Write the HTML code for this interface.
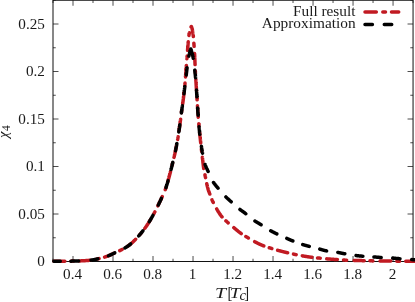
<!DOCTYPE html>
<html><head><meta charset="utf-8"><title>plot</title>
<style>
html,body{margin:0;padding:0;background:#fff;}
body{width:415px;height:302px;overflow:hidden;font-family:"Liberation Serif",serif;}
svg{display:block;will-change:transform;}
text{font-family:"Liberation Serif",serif;font-size:14.6px;fill:#1a1a1a;}
</style></head><body>
<svg width="415" height="302" viewBox="0 0 415 302">
<rect width="415" height="302" fill="#fff"/>
<g stroke="#111" stroke-width="0.75" fill="none">
<rect x="53.0" y="0.25" width="360.05" height="261.25" stroke-width="1"/>
<path d="M53.00,261.5 v-2.75 M53.00,0.25 v2.75"/><path d="M73.00,261.5 v-5.5 M73.00,0.25 v5.5"/><path d="M93.01,261.5 v-2.75 M93.01,0.25 v2.75"/><path d="M113.01,261.5 v-5.5 M113.01,0.25 v5.5"/><path d="M133.01,261.5 v-2.75 M133.01,0.25 v2.75"/><path d="M153.01,261.5 v-5.5 M153.01,0.25 v5.5"/><path d="M173.02,261.5 v-2.75 M173.02,0.25 v2.75"/><path d="M193.02,261.5 v-5.5 M193.02,0.25 v5.5"/><path d="M213.02,261.5 v-2.75 M213.02,0.25 v2.75"/><path d="M233.02,261.5 v-5.5 M233.02,0.25 v5.5"/><path d="M253.03,261.5 v-2.75 M253.03,0.25 v2.75"/><path d="M273.03,261.5 v-5.5 M273.03,0.25 v5.5"/><path d="M293.03,261.5 v-2.75 M293.03,0.25 v2.75"/><path d="M313.04,261.5 v-5.5 M313.04,0.25 v5.5"/><path d="M333.04,261.5 v-2.75 M333.04,0.25 v2.75"/><path d="M353.04,261.5 v-5.5 M353.04,0.25 v5.5"/><path d="M373.04,261.5 v-2.75 M373.04,0.25 v2.75"/><path d="M393.05,261.5 v-5.5 M393.05,0.25 v5.5"/><path d="M413.05,261.5 v-2.75 M413.05,0.25 v2.75"/><path d="M53.0,261.50 h5.5 M413.05,261.50 h-5.5"/><path d="M53.0,237.75 h2.75 M413.05,237.75 h-2.75"/><path d="M53.0,214.00 h5.5 M413.05,214.00 h-5.5"/><path d="M53.0,190.25 h2.75 M413.05,190.25 h-2.75"/><path d="M53.0,166.50 h5.5 M413.05,166.50 h-5.5"/><path d="M53.0,142.75 h2.75 M413.05,142.75 h-2.75"/><path d="M53.0,119.00 h5.5 M413.05,119.00 h-5.5"/><path d="M53.0,95.25 h2.75 M413.05,95.25 h-2.75"/><path d="M53.0,71.50 h5.5 M413.05,71.50 h-5.5"/><path d="M53.0,47.75 h2.75 M413.05,47.75 h-2.75"/><path d="M53.0,24.00 h5.5 M413.05,24.00 h-5.5"/><path d="M53.0,0.25 h2.75 M413.05,0.25 h-2.75"/>
</g>
<g>
<text transform="translate(72.60,278.6) scale(1.04,0.965)" text-anchor="middle">0.4</text><text transform="translate(112.61,278.6) scale(1.04,0.965)" text-anchor="middle">0.6</text><text transform="translate(152.61,278.6) scale(1.04,0.965)" text-anchor="middle">0.8</text><text transform="translate(192.62,278.6) scale(1.04,0.965)" text-anchor="middle">1</text><text transform="translate(232.62,278.6) scale(1.04,0.965)" text-anchor="middle">1.2</text><text transform="translate(272.63,278.6) scale(1.04,0.965)" text-anchor="middle">1.4</text><text transform="translate(312.64,278.6) scale(1.04,0.965)" text-anchor="middle">1.6</text><text transform="translate(352.64,278.6) scale(1.04,0.965)" text-anchor="middle">1.8</text><text transform="translate(392.65,278.6) scale(1.04,0.965)" text-anchor="middle">2</text><text transform="translate(44.9,266.30) scale(1.04,0.965)" text-anchor="end">0</text><text transform="translate(44.9,218.80) scale(1.04,0.965)" text-anchor="end">0.05</text><text transform="translate(44.9,171.30) scale(1.04,0.965)" text-anchor="end">0.1</text><text transform="translate(44.9,123.80) scale(1.04,0.965)" text-anchor="end">0.15</text><text transform="translate(44.9,76.30) scale(1.04,0.965)" text-anchor="end">0.2</text><text transform="translate(44.9,28.80) scale(1.04,0.965)" text-anchor="end">0.25</text>
<text x="293" y="15.7" textLength="62.4" lengthAdjust="spacingAndGlyphs">Full result</text>
<text x="261.8" y="28.2" textLength="93.8" lengthAdjust="spacingAndGlyphs">Approximation</text>
<text transform="translate(215.0,297.8) scale(1.36,1)" font-style="italic">T</text>
<text transform="translate(227.6,298.6) scale(1,1.18)">[</text>
<text transform="translate(229.7,297.8) scale(1.3,1)" font-style="italic">T</text>
<text x="239.4" y="300" font-style="italic" font-size="9.6">c</text>
<text transform="translate(244.3,298.6) scale(1,1.18)">]</text>
<text transform="translate(8.3,137.9) rotate(-90)"><tspan font-style="italic">χ</tspan><tspan font-size="11.6" dx="0.6" dy="1.9">4</tspan></text>
</g>
<g fill="none" stroke-width="3.5" stroke-linecap="round" stroke-linejoin="round">
<g stroke="#c11a22" stroke-dasharray="11.3 6.5 2.7 6">
<path d="M53.95,261.29 L53.96,261.29 L54.17,261.29 L54.38,261.29 L54.58,261.29 L54.79,261.29 L55.00,261.29 L55.21,261.29 L55.42,261.29 L55.63,261.29 L55.83,261.28 L56.04,261.28 L56.25,261.28 L56.46,261.28 L56.67,261.28 L56.88,261.28 L57.09,261.28 L57.29,261.28 L57.50,261.27 L57.71,261.27 L57.92,261.27 L58.13,261.27 L58.34,261.27 L58.54,261.27 L58.75,261.27 L58.96,261.27 L59.17,261.26 L59.38,261.26 L59.59,261.26 L59.80,261.26 L60.00,261.26 L60.21,261.26 L60.42,261.25 L60.63,261.25 L60.84,261.25 L61.05,261.25 L61.25,261.25 L61.46,261.25 L61.67,261.24 L61.88,261.24 L62.09,261.24 L62.30,261.24 L62.50,261.24 L62.71,261.24 L62.92,261.23 L63.13,261.23 L63.34,261.23 L63.55,261.23 L63.76,261.23 L63.96,261.22 L64.17,261.22 L64.38,261.22 L64.59,261.22 L64.80,261.22 L64.84,261.22 M71.10,261.13 L71.26,261.13 L71.47,261.13 L71.68,261.12 L71.88,261.12 L72.09,261.11 L72.30,261.11 L72.51,261.11 L72.72,261.10 L72.93,261.10 L73.13,261.09 L73.34,261.09 L73.55,261.08 L73.70,261.08 M79.48,260.92 L79.59,260.91 L79.80,260.91 L80.01,260.90 L80.22,260.89 L80.43,260.88 L80.63,260.88 L80.84,260.87 L81.05,260.86 L81.26,260.85 L81.47,260.84 L81.68,260.83 L81.89,260.82 L82.09,260.81 L82.30,260.80 L82.51,260.79 L82.72,260.78 L82.93,260.77 L83.14,260.76 L83.34,260.75 L83.55,260.74 L83.76,260.73 L83.97,260.72 L84.18,260.71 L84.39,260.69 L84.60,260.68 L84.80,260.67 L85.01,260.66 L85.22,260.64 L85.43,260.63 L85.64,260.62 L85.85,260.60 L86.05,260.59 L86.26,260.57 L86.47,260.56 L86.68,260.54 L86.89,260.53 L87.09,260.51 L87.30,260.50 L87.51,260.48 L87.72,260.46 L87.92,260.45 L88.13,260.43 L88.34,260.41 L88.55,260.39 L88.75,260.38 L88.96,260.36 L89.17,260.34 L89.37,260.32 L89.58,260.30 L89.79,260.28 L89.99,260.26 L90.20,260.24 L90.35,260.22 M96.52,259.13 L96.57,259.12 L96.77,259.07 L96.98,259.03 L97.18,258.98 L97.38,258.94 L97.59,258.89 L97.79,258.85 L98.00,258.80 L98.20,258.76 L98.40,258.71 L98.60,258.67 L98.81,258.62 L99.01,258.58 L99.06,258.56 M104.59,257.09 L104.66,257.07 L104.86,257.00 L105.06,256.94 L105.25,256.88 L105.45,256.82 L105.65,256.75 L105.85,256.69 L106.05,256.62 L106.24,256.56 L106.44,256.49 L106.64,256.42 L106.83,256.36 L107.03,256.29 L107.22,256.22 L107.42,256.15 L107.61,256.08 L107.81,256.01 L108.00,255.93 L108.20,255.86 L108.39,255.78 L108.58,255.71 L108.77,255.63 L108.97,255.55 L109.16,255.47 L109.35,255.39 L109.54,255.31 L109.73,255.22 L109.92,255.14 L110.12,255.06 L110.31,254.97 L110.50,254.89 L110.69,254.80 L110.88,254.71 L111.07,254.63 L111.26,254.54 L111.45,254.45 L111.64,254.36 L111.83,254.27 L112.02,254.19 L112.21,254.10 L112.39,254.01 L112.58,253.92 L112.77,253.83 L112.96,253.74 L113.15,253.65 L113.34,253.56 L113.53,253.48 L113.72,253.39 L113.91,253.30 L114.10,253.21 L114.25,253.14 M119.79,250.60 L119.97,250.51 L120.16,250.42 L120.35,250.33 L120.53,250.24 L120.72,250.15 L120.91,250.06 L121.10,249.97 L121.29,249.88 L121.47,249.79 L121.66,249.69 L121.85,249.60 L122.04,249.51 L122.17,249.44 M127.24,246.49 L127.26,246.48 L127.44,246.36 L127.61,246.24 L127.78,246.13 L127.96,246.01 L128.13,245.89 L128.30,245.77 L128.47,245.65 L128.64,245.52 L128.81,245.40 L128.98,245.28 L129.14,245.15 L129.31,245.03 L129.48,244.90 L129.64,244.78 L129.80,244.65 L129.97,244.53 L130.13,244.40 L130.29,244.27 L130.45,244.14 L130.61,244.01 L130.77,243.87 L130.93,243.74 L131.09,243.61 L131.25,243.47 L131.41,243.33 L131.56,243.20 L131.72,243.06 L131.87,242.92 L132.03,242.78 L132.18,242.64 L132.34,242.50 L132.49,242.35 L132.64,242.21 L132.80,242.07 L132.95,241.92 L133.10,241.78 L133.25,241.63 L133.40,241.49 L133.55,241.34 L133.70,241.20 L133.85,241.05 L134.00,240.90 L134.15,240.76 L134.30,240.61 L134.44,240.46 L134.59,240.31 L134.74,240.17 L134.89,240.02 L135.03,239.87 L135.18,239.72 L135.33,239.57 L135.47,239.43 L135.61,239.29 M139.76,234.72 L139.82,234.64 L139.96,234.49 L140.09,234.33 L140.23,234.17 L140.36,234.01 L140.49,233.85 L140.63,233.69 L140.76,233.53 L140.90,233.37 L141.03,233.21 L141.16,233.05 L141.29,232.89 L141.39,232.77 M144.86,228.32 L144.89,228.28 L145.01,228.12 L145.13,227.95 L145.26,227.78 L145.38,227.61 L145.50,227.44 L145.62,227.27 L145.74,227.10 L145.86,226.93 L145.98,226.76 L146.10,226.59 L146.22,226.42 L146.34,226.25 L146.45,226.08 L146.57,225.91 L146.69,225.73 L146.80,225.56 L146.92,225.39 L147.04,225.21 L147.15,225.04 L147.27,224.87 L147.38,224.69 L147.49,224.52 L147.61,224.35 L147.72,224.17 L147.84,224.00 L147.95,223.82 L148.06,223.64 L148.17,223.47 L148.28,223.29 L148.40,223.12 L148.51,222.94 L148.62,222.76 L148.73,222.59 L148.84,222.41 L148.95,222.23 L149.06,222.05 L149.17,221.88 L149.28,221.70 L149.39,221.52 L149.49,221.34 L149.60,221.16 L149.71,220.98 L149.82,220.80 L149.93,220.63 L150.03,220.45 L150.14,220.27 L150.25,220.09 L150.35,219.91 L150.46,219.73 L150.57,219.55 L150.64,219.42 M153.65,214.10 L153.75,213.93 L153.85,213.74 L153.94,213.56 L154.04,213.38 L154.14,213.19 L154.24,213.01 L154.34,212.82 L154.43,212.64 L154.53,212.45 L154.63,212.27 L154.73,212.09 L154.82,211.90 L154.85,211.86 M157.86,205.84 L157.90,205.75 L157.99,205.56 L158.08,205.38 L158.17,205.19 L158.26,205.00 L158.35,204.81 L158.44,204.62 L158.53,204.44 L158.62,204.25 L158.71,204.06 L158.80,203.87 L158.89,203.68 L158.98,203.50 L159.07,203.31 L159.16,203.12 L159.25,202.93 L159.34,202.74 L159.43,202.55 L159.52,202.37 L159.61,202.18 L159.70,201.99 L159.79,201.80 L159.89,201.62 L159.98,201.43 L160.07,201.24 L160.16,201.05 L160.25,200.86 L160.34,200.68 L160.43,200.49 L160.52,200.30 L160.61,200.11 L160.70,199.93 L160.79,199.74 L160.88,199.55 L160.97,199.36 L161.06,199.17 L161.15,198.99 L161.24,198.80 L161.33,198.61 L161.42,198.42 L161.51,198.23 L161.60,198.05 L161.69,197.86 L161.78,197.67 L161.87,197.48 L161.96,197.29 L162.05,197.10 L162.13,196.91 L162.22,196.73 L162.26,196.63 M165.20,189.87 L165.20,189.84 L165.28,189.65 L165.34,189.45 L165.41,189.26 L165.48,189.06 L165.55,188.86 L165.62,188.67 L165.69,188.47 L165.75,188.27 L165.82,188.08 L165.89,187.88 L165.95,187.68 L166.02,187.48 L166.03,187.43 M167.69,181.96 L167.71,181.89 L167.77,181.69 L167.83,181.49 L167.89,181.29 L167.95,181.09 L168.01,180.89 L168.06,180.69 L168.12,180.49 L168.18,180.29 L168.24,180.09 L168.29,179.89 L168.35,179.69 L168.40,179.49 L168.46,179.29 L168.52,179.09 L168.57,178.89 L168.63,178.68 L168.68,178.48 L168.74,178.28 L168.79,178.08 L168.85,177.88 L168.90,177.68 L168.96,177.48 L169.01,177.28 L169.07,177.08 L169.12,176.87 L169.18,176.67 L169.23,176.47 L169.28,176.27 L169.34,176.07 L169.39,175.87 L169.44,175.66 L169.50,175.46 L169.55,175.26 L169.60,175.06 L169.66,174.86 L169.71,174.66 L169.76,174.46 L169.81,174.25 L169.87,174.05 L169.92,173.85 L169.97,173.65 L170.02,173.45 L170.08,173.24 L170.13,173.04 L170.18,172.84 L170.23,172.64 L170.29,172.44 L170.34,172.24 L170.39,172.03 L170.44,171.83 L170.50,171.63 L170.51,171.56 M172.01,165.55 L172.06,165.36 L172.11,165.16 L172.16,164.96 L172.21,164.75 L172.26,164.55 L172.31,164.35 L172.36,164.15 L172.41,163.94 L172.45,163.74 L172.50,163.54 L172.55,163.34 L172.60,163.13 L172.62,163.05 M174.00,157.38 L174.03,157.26 L174.08,157.06 L174.13,156.85 L174.18,156.65 L174.22,156.45 L174.27,156.24 L174.32,156.04 L174.37,155.84 L174.42,155.64 L174.46,155.43 L174.51,155.23 L174.56,155.03 L174.60,154.82 L174.65,154.62 L174.70,154.42 L174.74,154.21 L174.79,154.01 L174.84,153.81 L174.88,153.60 L174.93,153.40 L174.97,153.20 L175.01,152.99 L175.06,152.79 L175.10,152.59 L175.15,152.38 L175.19,152.18 L175.23,151.98 L175.28,151.77 L175.32,151.57 L175.36,151.36 L175.40,151.16 L175.44,150.96 L175.49,150.75 L175.53,150.55 L175.57,150.34 L175.61,150.14 L175.65,149.93 L175.69,149.73 L175.73,149.52 L175.77,149.32 L175.81,149.12 L175.85,148.91 L175.89,148.71 L175.93,148.50 L175.97,148.30 L176.01,148.09 L176.05,147.89 L176.09,147.68 L176.13,147.48 L176.17,147.27 L176.21,147.07 L176.25,146.86 L176.28,146.66 L176.32,146.45 L176.36,146.25 L176.40,146.04 L176.41,145.99 M177.64,139.42 L177.66,139.28 L177.70,139.08 L177.74,138.87 L177.77,138.67 L177.81,138.46 L177.84,138.26 L177.88,138.05 L177.91,137.84 L177.94,137.64 L177.98,137.43 L178.01,137.23 L178.04,137.02 L178.08,136.82 L178.10,136.70 M179.01,130.64 L179.01,130.63 L179.04,130.43 L179.07,130.22 L179.10,130.02 L179.13,129.81 L179.16,129.60 L179.19,129.40 L179.22,129.19 L179.25,128.98 L179.28,128.78 L179.31,128.57 L179.34,128.36 L179.37,128.16 L179.39,127.95 L179.42,127.74 L179.45,127.54 L179.48,127.33 L179.51,127.13 L179.54,126.92 L179.57,126.71 L179.60,126.51 L179.63,126.30 L179.65,126.09 L179.68,125.89 L179.71,125.68 L179.74,125.47 L179.77,125.27 L179.80,125.06 L179.83,124.85 L179.85,124.65 L179.88,124.44 L179.91,124.23 L179.94,124.03 L179.97,123.82 L180.00,123.62 L180.03,123.41 L180.06,123.20 L180.08,123.00 L180.11,122.79 L180.14,122.58 L180.17,122.38 L180.20,122.17 L180.22,121.96 L180.25,121.76 L180.28,121.55 L180.31,121.34 L180.33,121.14 L180.36,120.93 L180.39,120.72 L180.42,120.52 L180.44,120.31 L180.47,120.10 L180.50,119.90 L180.53,119.69 L180.55,119.48 L180.58,119.28 L180.59,119.21 M181.44,112.63 L181.46,112.45 L181.49,112.25 L181.51,112.04 L181.54,111.83 L181.57,111.63 L181.59,111.42 L181.62,111.21 L181.65,111.01 L181.68,110.80 L181.70,110.59 L181.73,110.39 L181.76,110.18 L181.79,109.97 L181.80,109.90 M182.67,103.84 L182.68,103.78 L182.71,103.58 L182.74,103.37 L182.77,103.17 L182.80,102.96 L182.83,102.75 L182.86,102.55 L182.89,102.34 L182.91,102.13 L182.94,101.93 L182.97,101.72 L183.00,101.52 L183.03,101.31 L183.06,101.10 L183.08,100.90 L183.11,100.69 L183.14,100.48 L183.17,100.28 L183.19,100.07 L183.22,99.86 L183.24,99.66 L183.27,99.45 L183.29,99.24 L183.32,99.03 L183.34,98.83 L183.37,98.62 L183.39,98.41 L183.42,98.21 L183.44,98.00 L183.46,97.79 L183.49,97.59 L183.51,97.38 L183.54,97.17 L183.56,96.96 L183.58,96.76 L183.61,96.55 L183.63,96.34 L183.65,96.14 L183.67,95.93 L183.70,95.72 L183.72,95.51 L183.74,95.31 L183.76,95.10 L183.79,94.89 L183.81,94.69 L183.83,94.48 L183.85,94.27 L183.87,94.06 L183.90,93.86 L183.92,93.65 L183.94,93.44 L183.96,93.23 L183.98,93.03 L184.01,92.82 L184.03,92.61 L184.05,92.40 L184.05,92.38 M184.75,85.78 L184.75,85.77 L184.77,85.56 L184.79,85.36 L184.81,85.15 L184.83,84.94 L184.86,84.73 L184.88,84.53 L184.90,84.32 L184.92,84.11 L184.94,83.90 L184.96,83.70 L184.98,83.49 L185.00,83.28 L185.02,83.07 L185.02,83.04 M185.53,76.94 L185.54,76.84 L185.55,76.64 L185.56,76.43 L185.58,76.22 L185.59,76.01 L185.61,75.80 L185.62,75.60 L185.63,75.39 L185.65,75.18 L185.66,74.97 L185.68,74.76 L185.69,74.56 L185.70,74.35 L185.72,74.14 L185.73,73.93 L185.74,73.72 L185.76,73.52 L185.77,73.31 L185.78,73.10 L185.80,72.89 L185.81,72.68 L185.83,72.48 L185.84,72.27 L185.85,72.06 L185.87,71.85 L185.88,71.64 L185.90,71.44 L185.91,71.23 L185.93,71.02 L185.94,70.81 L185.96,70.60 L185.97,70.40 L185.99,70.19 L186.00,69.98 L186.02,69.77 L186.03,69.57 L186.05,69.36 L186.06,69.15 L186.08,68.94 L186.10,68.73 L186.11,68.53 L186.13,68.32 L186.14,68.11 L186.16,67.90 L186.18,67.69 L186.19,67.49 L186.21,67.28 L186.23,67.07 L186.24,66.86 L186.26,66.66 L186.28,66.45 L186.29,66.24 L186.31,66.03 L186.33,65.82 L186.34,65.62 L186.36,65.43 M186.89,58.82 L186.90,58.76 L186.92,58.55 L186.93,58.35 L186.95,58.14 L186.97,57.93 L186.98,57.72 L187.00,57.51 L187.02,57.31 L187.03,57.10 L187.05,56.89 L187.07,56.68 L187.08,56.48 L187.10,56.27 L187.11,56.07 M187.57,50.36 L187.58,50.24 L187.60,50.03 L187.61,49.83 L187.63,49.62 L187.65,49.41 L187.66,49.20 L187.68,49.00 L187.69,48.79 L187.71,48.58 L187.73,48.37 L187.74,48.16 L187.76,47.96 L187.77,47.75 L187.79,47.54 L187.80,47.33 L187.82,47.12 L187.83,46.92 L187.85,46.71 L187.86,46.50 L187.88,46.29 L187.89,46.08 L187.91,45.88 L187.93,45.67 L187.94,45.46 L187.96,45.25 L187.97,45.04 L187.99,44.84 L188.00,44.63 L188.02,44.42 L188.03,44.21 L188.05,44.01 L188.07,43.80 L188.08,43.59 L188.10,43.38 L188.12,43.17 L188.13,42.97 L188.15,42.76 L188.17,42.55 L188.19,42.34 L188.20,42.14 L188.22,41.93 L188.23,41.82 M188.93,35.46 L188.95,35.30 L188.98,35.09 L189.01,34.88 L189.04,34.68 L189.07,34.47 L189.10,34.27 L189.13,34.06 L189.16,33.85 L189.20,33.65 L189.23,33.44 L189.26,33.24 L189.29,33.03 L189.33,32.83 L189.35,32.68 M191.07,26.89 L191.08,26.86 L191.19,26.68 L191.30,26.50 L191.41,26.75 L191.51,26.99 L191.61,27.24 L191.71,27.49 L191.81,27.74 L191.90,27.99 L191.99,28.25 L192.07,28.50 L192.14,28.75 L192.20,29.01 L192.26,29.27 L192.32,29.53 L192.37,29.79 L192.42,30.05 L192.47,30.31 L192.51,30.57 L192.55,30.83 L192.60,31.10 L192.64,31.36 L192.68,31.63 L192.71,31.89 L192.75,32.16 L192.79,32.43 L192.82,32.69 L192.86,32.96 L192.89,33.22 L192.93,33.49 L192.97,33.75 L193.00,34.02 L193.04,34.28 L193.08,34.55 L193.11,34.81 L193.15,35.07 L193.19,35.34 L193.22,35.60 L193.26,35.87 L193.29,36.13 L193.32,36.40 L193.34,36.57 M193.88,43.23 L193.89,43.31 L193.90,43.58 L193.92,43.84 L193.94,44.11 L193.96,44.38 L193.97,44.64 L193.99,44.91 L194.01,45.17 L194.03,45.44 L194.05,45.71 L194.07,45.97 L194.09,46.24 L194.10,46.36 M194.58,53.56 L194.59,53.69 L194.61,53.96 L194.62,54.23 L194.63,54.49 L194.64,54.76 L194.66,55.03 L194.67,55.29 L194.68,55.56 L194.70,55.83 L194.71,56.09 L194.72,56.36 L194.73,56.62 L194.74,56.89 L194.75,57.16 L194.77,57.42 L194.78,57.69 L194.79,57.96 L194.80,58.22 L194.81,58.49 L194.82,58.76 L194.83,59.02 L194.84,59.29 L194.86,59.56 L194.87,59.82 L194.88,60.09 L194.89,60.36 L194.90,60.62 L194.91,60.89 L194.92,61.16 L194.93,61.42 L194.94,61.69 L194.95,61.96 L194.96,62.22 L194.97,62.49 L194.98,62.76 L194.99,63.02 L195.00,63.29 L195.02,63.56 L195.03,63.82 L195.04,64.09 L195.05,64.36 L195.06,64.58 M195.35,70.93 L195.35,71.02 L195.37,71.29 L195.38,71.55 L195.39,71.82 L195.41,72.09 L195.42,72.35 L195.44,72.62 L195.45,72.89 L195.47,73.15 L195.48,73.42 L195.49,73.56 M195.84,79.44 L195.84,79.55 L195.86,79.81 L195.87,80.08 L195.89,80.34 L195.91,80.61 L195.92,80.88 L195.94,81.14 L195.96,81.41 L195.97,81.68 L195.99,81.94 L196.01,82.21 L196.02,82.48 L196.04,82.74 L196.06,83.01 L196.07,83.27 L196.09,83.54 L196.10,83.81 L196.12,84.07 L196.14,84.34 L196.15,84.61 L196.17,84.87 L196.19,85.14 L196.20,85.40 L196.22,85.67 L196.24,85.94 L196.25,86.20 L196.27,86.47 L196.28,86.74 L196.30,87.00 L196.32,87.27 L196.33,87.54 L196.35,87.80 L196.36,88.07 L196.38,88.33 L196.40,88.60 L196.41,88.87 L196.43,89.13 L196.45,89.40 L196.46,89.67 L196.48,89.93 L196.49,90.20 L196.51,90.47 L196.52,90.68 M196.93,97.15 L196.94,97.39 L196.96,97.66 L196.98,97.92 L196.99,98.19 L197.01,98.45 L197.03,98.72 L197.04,98.99 L197.06,99.25 L197.08,99.52 L197.09,99.79 L197.10,99.84 M197.48,105.82 L197.49,105.91 L197.51,106.18 L197.52,106.44 L197.54,106.71 L197.56,106.98 L197.57,107.24 L197.59,107.51 L197.61,107.77 L197.63,108.04 L197.64,108.31 L197.66,108.57 L197.68,108.84 L197.70,109.11 L197.71,109.37 L197.73,109.64 L197.75,109.90 L197.77,110.17 L197.79,110.44 L197.80,110.70 L197.82,110.97 L197.84,111.24 L197.86,111.50 L197.88,111.77 L197.90,112.03 L197.91,112.30 L197.93,112.57 L197.95,112.83 L197.97,113.10 L197.99,113.36 L198.01,113.63 L198.03,113.90 L198.05,114.16 L198.07,114.43 L198.09,114.70 L198.11,114.96 L198.13,115.23 L198.14,115.49 L198.16,115.76 L198.18,116.03 L198.20,116.29 L198.22,116.56 L198.24,116.82 L198.26,117.09 L198.27,117.17 M198.79,123.70 L198.79,123.74 L198.81,124.01 L198.84,124.27 L198.86,124.54 L198.88,124.80 L198.91,125.07 L198.93,125.34 L198.95,125.60 L198.98,125.87 L199.00,126.13 L199.03,126.40 L199.03,126.40 M199.61,132.33 L199.63,132.51 L199.66,132.77 L199.69,133.04 L199.71,133.30 L199.74,133.57 L199.77,133.83 L199.80,134.10 L199.82,134.36 L199.85,134.63 L199.88,134.89 L199.91,135.16 L199.94,135.43 L199.96,135.69 L199.99,135.96 L200.02,136.22 L200.05,136.49 L200.07,136.75 L200.10,137.02 L200.13,137.28 L200.16,137.55 L200.18,137.81 L200.21,138.08 L200.24,138.34 L200.27,138.61 L200.30,138.88 L200.32,139.14 L200.35,139.41 L200.38,139.67 L200.41,139.94 L200.44,140.20 L200.47,140.47 L200.49,140.73 L200.52,141.00 L200.55,141.26 L200.58,141.53 L200.61,141.79 L200.64,142.06 L200.66,142.32 L200.69,142.59 L200.72,142.85 L200.73,142.96 M201.41,149.08 L201.42,149.22 L201.45,149.49 L201.48,149.75 L201.51,150.02 L201.54,150.28 L201.57,150.55 L201.60,150.81 L201.63,151.08 L201.66,151.34 L201.69,151.61 L201.70,151.62 M202.36,157.33 L202.37,157.44 L202.40,157.70 L202.44,157.97 L202.47,158.23 L202.50,158.50 L202.53,158.76 L202.56,159.03 L202.59,159.29 L202.63,159.56 L202.66,159.82 L202.69,160.09 L202.72,160.35 L202.75,160.62 L202.78,160.88 L202.81,161.15 L202.84,161.41 L202.87,161.68 L202.90,161.94 L202.93,162.21 L202.96,162.48 L202.99,162.74 L203.02,163.01 L203.06,163.27 L203.09,163.54 L203.12,163.80 L203.15,164.07 L203.18,164.33 L203.21,164.60 L203.24,164.86 L203.28,165.13 L203.31,165.39 L203.34,165.66 L203.38,165.92 L203.41,166.19 L203.44,166.45 L203.48,166.72 L203.51,166.98 L203.55,167.25 L203.58,167.51 L203.62,167.77 L203.66,168.04 L203.70,168.30 L203.72,168.49 M204.94,174.84 L204.94,174.85 L205.00,175.11 L205.06,175.37 L205.12,175.63 L205.17,175.89 L205.23,176.15 L205.28,176.41 L205.34,176.68 L205.39,176.94 L205.44,177.20 L205.49,177.46 L205.52,177.60 M206.78,183.82 L206.82,184.00 L206.88,184.26 L206.94,184.52 L207.00,184.78 L207.06,185.04 L207.12,185.30 L207.18,185.56 L207.24,185.82 L207.31,186.08 L207.37,186.34 L207.43,186.60 L207.50,186.86 L207.56,187.12 L207.63,187.38 L207.69,187.64 L207.76,187.89 L207.83,188.15 L207.90,188.41 L207.97,188.67 L208.04,188.92 L208.11,189.18 L208.18,189.44 L208.26,189.69 L208.33,189.95 L208.41,190.20 L208.49,190.46 L208.57,190.71 L208.65,190.96 L208.74,191.22 L208.82,191.47 L208.92,191.72 L209.01,191.97 L209.10,192.22 L209.20,192.47 L209.30,192.71 L209.40,192.96 L209.50,193.21 L209.59,193.46 L209.69,193.71 L209.79,193.96 L209.81,194.02 M211.98,199.75 L212.06,199.95 L212.17,200.19 L212.27,200.44 L212.38,200.68 L212.49,200.92 L212.60,201.17 L212.71,201.41 L212.82,201.65 L212.93,201.89 L213.05,202.13 L213.16,202.37 L213.25,202.54 M216.69,208.90 L216.72,208.95 L216.85,209.18 L216.99,209.42 L217.12,209.65 L217.26,209.88 L217.39,210.11 L217.53,210.34 L217.67,210.57 L217.80,210.81 L217.94,211.04 L218.08,211.27 L218.22,211.50 L218.36,211.73 L218.50,211.96 L218.64,212.18 L218.79,212.41 L218.93,212.64 L219.07,212.87 L219.22,213.09 L219.37,213.32 L219.51,213.54 L219.66,213.76 L219.81,213.98 L219.96,214.21 L220.11,214.43 L220.27,214.64 L220.42,214.86 L220.57,215.08 L220.73,215.29 L220.89,215.50 L221.05,215.72 L221.21,215.93 L221.37,216.13 L221.53,216.34 L221.69,216.55 L221.86,216.75 L222.01,216.94 M225.95,220.84 L226.01,220.89 L226.21,221.07 L226.41,221.25 L226.61,221.43 L226.81,221.61 L227.00,221.79 L227.20,221.97 L227.40,222.15 L227.59,222.33 L227.79,222.51 L227.99,222.69 L228.18,222.85 M233.83,227.66 L233.88,227.71 L234.09,227.88 L234.29,228.05 L234.50,228.22 L234.70,228.39 L234.91,228.57 L235.11,228.74 L235.32,228.91 L235.52,229.08 L235.73,229.26 L235.93,229.43 L236.14,229.60 L236.34,229.77 L236.55,229.94 L236.76,230.11 L236.96,230.28 L237.17,230.45 L237.38,230.62 L237.58,230.79 L237.79,230.96 L238.00,231.13 L238.21,231.29 L238.42,231.46 L238.63,231.63 L238.84,231.79 L239.05,231.96 L239.26,232.12 L239.47,232.28 L239.68,232.44 L239.89,232.61 L240.10,232.77 L240.32,232.93 L240.53,233.08 L240.75,233.24 L240.96,233.40 L241.18,233.55 L241.23,233.59 M245.85,236.50 L245.91,236.53 L246.14,236.67 L246.37,236.81 L246.60,236.94 L246.83,237.08 L247.06,237.22 L247.29,237.35 L247.52,237.49 L247.74,237.63 L247.97,237.77 L248.20,237.91 L248.35,238.01 M254.64,241.70 L254.87,241.82 L255.11,241.94 L255.34,242.07 L255.58,242.19 L255.82,242.31 L256.06,242.43 L256.30,242.55 L256.54,242.67 L256.77,242.79 L257.01,242.91 L257.25,243.03 L257.49,243.15 L257.74,243.26 L257.98,243.38 L258.22,243.50 L258.46,243.61 L258.70,243.73 L258.94,243.84 L259.19,243.95 L259.43,244.07 L259.67,244.18 L259.92,244.29 L260.16,244.40 L260.40,244.51 L260.65,244.62 L260.89,244.73 L261.14,244.83 L261.38,244.94 L261.63,245.05 L261.87,245.15 L262.12,245.25 L262.37,245.36 L262.61,245.46 L262.86,245.56 L263.11,245.66 L263.35,245.76 L263.60,245.86 L263.79,245.93 M269.29,247.76 L269.42,247.80 L269.67,247.87 L269.93,247.95 L270.18,248.03 L270.44,248.11 L270.69,248.19 L270.95,248.27 L271.20,248.35 L271.45,248.43 L271.71,248.51 L271.79,248.54 M277.63,250.27 L277.85,250.33 L278.11,250.40 L278.36,250.47 L278.62,250.54 L278.88,250.60 L279.14,250.67 L279.40,250.74 L279.65,250.81 L279.91,250.88 L280.17,250.94 L280.43,251.01 L280.69,251.08 L280.95,251.14 L281.20,251.21 L281.46,251.28 L281.72,251.34 L281.98,251.41 L282.24,251.47 L282.50,251.54 L282.76,251.60 L283.02,251.67 L283.27,251.73 L283.53,251.80 L283.79,251.86 L284.05,251.92 L284.31,251.99 L284.57,252.05 L284.83,252.12 L285.09,252.18 L285.35,252.24 L285.61,252.30 L285.87,252.37 L286.13,252.43 L286.39,252.49 L286.65,252.55 L286.91,252.62 L287.16,252.68 L287.42,252.74 L287.68,252.80 L287.69,252.80 M293.50,254.12 L293.67,254.16 L293.93,254.21 L294.19,254.27 L294.45,254.33 L294.71,254.38 L294.97,254.44 L295.23,254.49 L295.50,254.55 L295.76,254.60 L296.02,254.66 L296.16,254.69 M302.27,255.87 L302.30,255.87 L302.57,255.92 L302.83,255.96 L303.09,256.01 L303.36,256.05 L303.62,256.09 L303.88,256.14 L304.15,256.18 L304.41,256.22 L304.67,256.27 L304.94,256.31 L305.20,256.35 L305.46,256.39 L305.73,256.43 L305.99,256.48 L306.26,256.52 L306.52,256.56 L306.78,256.60 L307.05,256.64 L307.31,256.68 L307.58,256.72 L307.84,256.75 L308.10,256.79 L308.37,256.83 L308.63,256.87 L308.90,256.91 L309.16,256.94 L309.43,256.98 L309.69,257.02 L309.95,257.05 L310.22,257.09 L310.48,257.12 L310.75,257.16 L311.01,257.19 L311.28,257.22 L311.54,257.26 L311.81,257.29 L311.95,257.31 M317.54,257.89 L317.64,257.90 L317.91,257.93 L318.18,257.96 L318.44,257.98 L318.71,258.01 L318.97,258.04 L319.24,258.07 L319.50,258.09 L319.77,258.12 L320.03,258.15 L320.24,258.17 M326.75,258.82 L326.94,258.83 L327.20,258.86 L327.47,258.88 L327.73,258.90 L328.00,258.92 L328.27,258.94 L328.53,258.96 L328.80,258.98 L329.06,259.01 L329.33,259.03 L329.60,259.05 L329.86,259.07 L330.13,259.09 L330.39,259.11 L330.66,259.13 L330.93,259.15 L331.19,259.17 L331.46,259.19 L331.73,259.21 L331.99,259.23 L332.26,259.25 L332.52,259.27 L332.79,259.29 L333.06,259.31 L333.32,259.32 L333.59,259.34 L333.85,259.36 L334.12,259.38 L334.39,259.40 L334.65,259.42 L334.92,259.44 L335.19,259.46 L335.45,259.48 L335.72,259.50 L335.98,259.51 L336.25,259.53 L336.52,259.55 L336.78,259.57 L337.05,259.59 L337.31,259.61 L337.38,259.61 M343.50,260.04 L343.70,260.05 L343.97,260.06 L344.24,260.08 L344.50,260.09 L344.77,260.10 L345.04,260.12 L345.30,260.13 L345.57,260.14 L345.84,260.15 L346.10,260.16 L346.37,260.17 L346.62,260.18 M354.11,260.43 L354.37,260.44 L354.64,260.45 L354.90,260.45 L355.17,260.46 L355.44,260.47 L355.70,260.48 L355.97,260.48 L356.24,260.49 L356.50,260.50 L356.77,260.50 L357.04,260.51 L357.30,260.52 L357.57,260.52 L357.84,260.53 L358.10,260.54 L358.37,260.54 L358.64,260.55 L358.90,260.55 L359.17,260.56 L359.44,260.57 L359.70,260.57 L359.97,260.58 L360.24,260.59 L360.50,260.59 L360.77,260.60 L361.04,260.60 L361.31,260.61 L361.57,260.62 L361.84,260.62 L362.11,260.63 L362.37,260.64 L362.64,260.64 L362.91,260.65 L363.17,260.65 L363.44,260.66 L363.71,260.67 L363.97,260.67 L364.18,260.68 M369.97,260.82 L370.11,260.82 L370.37,260.83 L370.64,260.84 L370.91,260.84 L371.18,260.85 L371.44,260.86 L371.71,260.86 L371.98,260.87 L372.24,260.88 L372.51,260.88 L372.78,260.89 L372.90,260.89 M380.06,261.01 L380.25,261.02 L380.51,261.02 L380.78,261.02 L381.05,261.02 L381.31,261.03 L381.58,261.03 L381.85,261.03 L382.11,261.03 L382.38,261.04 L382.65,261.04 L382.91,261.04 L383.18,261.04 L383.45,261.04 L383.71,261.05 L383.98,261.05 L384.25,261.05 L384.51,261.05 L384.78,261.05 L385.05,261.06 L385.32,261.06 L385.58,261.06 L385.85,261.06 L386.12,261.06 L386.38,261.07 L386.65,261.07 L386.92,261.07 L387.18,261.07 L387.45,261.07 L387.72,261.07 L387.98,261.08 L388.25,261.08 L388.52,261.08 L388.78,261.08 L389.05,261.08 L389.32,261.09 L389.58,261.09 L389.85,261.09 L390.12,261.09 L390.39,261.09 L390.65,261.09 L390.72,261.09 M396.85,261.14 L397.06,261.14 L397.32,261.14 L397.59,261.14 L397.86,261.15 L398.12,261.15 L398.39,261.15 L398.66,261.15 L398.92,261.15 L399.19,261.16 L399.46,261.16 L399.54,261.16 M405.76,261.21 L405.86,261.21 L406.13,261.21 L406.39,261.21 L406.66,261.21 L406.93,261.22 L407.19,261.22 L407.46,261.22 L407.73,261.22 L408.00,261.23 L408.26,261.23 L408.53,261.23 L408.80,261.23 L409.06,261.23 L409.33,261.24 L409.60,261.24 L409.86,261.24 L410.13,261.24 L410.40,261.25 L410.66,261.25 L410.93,261.25 L411.20,261.25 L411.46,261.26 L411.73,261.26 L412.00,261.26 L412.26,261.26 L412.53,261.27 L412.80,261.27 L413.06,261.27 L413.33,261.27 L413.60,261.28 L413.87,261.28 L414.13,261.28 L414.40,261.28 L414.67,261.29 L414.93,261.29 L415.20,261.29 L415.47,261.29 L415.73,261.30 L416.00,261.30" stroke-dasharray="none"/>
<path d="M365,12 H398.7" stroke-dashoffset="0"/>
</g>
<g stroke="#000" stroke-dasharray="7.4 11.9">
<path d="M53.81,261.29 L53.85,261.29 L54.05,261.29 L54.24,261.29 L54.43,261.29 L54.63,261.29 L54.82,261.29 L55.01,261.29 L55.21,261.29 L55.40,261.29 L55.59,261.29 L55.79,261.29 L55.98,261.28 L56.18,261.28 L56.37,261.28 L56.56,261.28 L56.76,261.28 L56.95,261.28 L57.14,261.28 L57.34,261.28 L57.53,261.27 L57.72,261.27 L57.92,261.27 L58.11,261.27 L58.30,261.27 L58.50,261.27 L58.69,261.27 L58.88,261.27 L59.08,261.26 L59.27,261.26 L59.46,261.26 L59.66,261.26 L59.85,261.26 L60.04,261.26 L60.24,261.26 L60.26,261.26 M70.91,261.14 L71.07,261.13 L71.26,261.13 L71.45,261.13 L71.65,261.12 L71.84,261.12 L72.03,261.12 L72.23,261.11 L72.42,261.11 L72.62,261.10 L72.81,261.10 L73.00,261.10 L73.20,261.09 L73.39,261.09 L73.58,261.08 L73.78,261.08 L73.97,261.08 L74.16,261.07 L74.36,261.07 L74.55,261.06 L74.74,261.06 L74.94,261.05 L75.13,261.05 L75.32,261.04 L75.52,261.04 L75.71,261.03 L75.90,261.03 L76.10,261.02 L76.29,261.02 L76.48,261.01 L76.68,261.01 L76.87,261.00 L77.06,261.00 L77.26,260.99 L77.45,260.98 L77.64,260.98 L77.84,260.97 L78.03,260.97 L78.22,260.96 L78.42,260.95 L78.61,260.95 L78.69,260.94 M91.00,260.14 L91.15,260.12 L91.34,260.10 L91.53,260.07 L91.72,260.04 L91.91,260.01 L92.10,259.98 L92.29,259.95 L92.49,259.92 L92.68,259.89 L92.87,259.86 L93.06,259.82 L93.25,259.79 L93.44,259.75 L93.63,259.72 L93.82,259.68 L94.01,259.65 L94.20,259.61 L94.39,259.57 L94.58,259.54 L94.77,259.50 L94.96,259.46 L95.15,259.42 L95.34,259.38 L95.53,259.34 L95.72,259.30 L95.91,259.26 L96.10,259.22 L96.29,259.18 L96.48,259.14 L96.67,259.10 L96.86,259.06 L97.05,259.01 L97.24,258.97 L97.43,258.93 L97.62,258.89 L97.78,258.85 M108.44,255.76 L108.56,255.71 L108.74,255.64 L108.92,255.57 L109.10,255.49 L109.28,255.42 L109.45,255.34 L109.63,255.27 L109.81,255.19 L109.99,255.11 L110.16,255.03 L110.34,254.96 L110.52,254.88 L110.69,254.80 L110.87,254.72 L111.05,254.64 L111.22,254.55 L111.40,254.47 L111.57,254.39 L111.75,254.31 L111.93,254.23 L112.10,254.15 L112.28,254.06 L112.45,253.98 L112.63,253.90 L112.80,253.82 L112.98,253.73 L113.16,253.65 L113.33,253.57 L113.51,253.49 L113.68,253.40 L113.86,253.32 L114.04,253.24 L114.21,253.16 L114.39,253.08 L114.56,253.00 L114.74,252.92 L114.80,252.89 M124.89,247.97 L124.99,247.91 L125.15,247.81 L125.32,247.71 L125.49,247.61 L125.65,247.51 L125.82,247.41 L125.98,247.31 L126.14,247.21 L126.31,247.10 L126.47,247.00 L126.64,246.89 L126.80,246.79 L126.96,246.68 L127.12,246.57 L127.29,246.46 L127.45,246.36 L127.61,246.25 L127.77,246.14 L127.93,246.03 L128.09,245.92 L128.25,245.80 L128.40,245.69 L128.56,245.58 L128.72,245.47 L128.87,245.35 L129.03,245.24 L129.19,245.12 L129.34,245.01 L129.49,244.89 L129.65,244.77 L129.80,244.66 L129.95,244.54 L130.10,244.42 L130.25,244.30 L130.40,244.18 L130.55,244.06 L130.67,243.96 M138.66,235.99 L138.77,235.86 L138.90,235.72 L139.02,235.57 L139.15,235.43 L139.28,235.28 L139.40,235.13 L139.53,234.99 L139.66,234.84 L139.78,234.69 L139.91,234.54 L140.03,234.40 L140.16,234.25 L140.28,234.10 L140.41,233.95 L140.53,233.80 L140.66,233.66 L140.78,233.51 L140.90,233.36 L141.03,233.21 L141.15,233.06 L141.27,232.91 L141.39,232.76 L141.52,232.61 L141.64,232.46 L141.76,232.31 L141.88,232.16 L142.00,232.01 L142.13,231.86 L142.25,231.71 L142.37,231.56 L142.49,231.41 L142.61,231.26 L142.73,231.11 L142.85,230.96 L142.97,230.80 L143.02,230.74 M149.31,221.65 L149.35,221.58 L149.45,221.41 L149.55,221.25 L149.65,221.08 L149.75,220.92 L149.85,220.75 L149.95,220.59 L150.05,220.42 L150.15,220.25 L150.25,220.09 L150.35,219.92 L150.45,219.75 L150.54,219.59 L150.64,219.42 L150.74,219.25 L150.84,219.09 L150.94,218.92 L151.03,218.75 L151.13,218.59 L151.23,218.42 L151.33,218.25 L151.42,218.09 L151.52,217.92 L151.62,217.75 L151.71,217.58 L151.81,217.42 L151.91,217.25 L152.00,217.08 L152.10,216.91 L152.19,216.74 L152.29,216.58 L152.38,216.41 L152.48,216.24 L152.57,216.07 L152.67,215.90 L152.76,215.73 L152.85,215.56 L152.95,215.39 L152.96,215.36 M158.28,204.95 L158.32,204.89 L158.40,204.71 L158.48,204.54 L158.57,204.36 L158.65,204.19 L158.73,204.01 L158.82,203.84 L158.90,203.67 L158.98,203.49 L159.07,203.32 L159.15,203.14 L159.24,202.97 L159.32,202.79 L159.40,202.62 L159.49,202.44 L159.57,202.27 L159.65,202.10 L159.74,201.92 L159.82,201.75 L159.91,201.57 L159.99,201.40 L160.07,201.22 L160.16,201.05 L160.24,200.88 L160.33,200.70 L160.41,200.53 L160.49,200.35 L160.58,200.18 L160.66,200.00 L160.75,199.83 L160.83,199.66 L160.91,199.48 L161.00,199.31 L161.08,199.13 L161.17,198.96 L161.25,198.78 L161.33,198.61 L161.42,198.44 L161.43,198.40 M165.96,187.66 L165.99,187.57 L166.05,187.39 L166.11,187.20 L166.16,187.02 L166.22,186.84 L166.28,186.65 L166.34,186.47 L166.40,186.28 L166.46,186.10 L166.51,185.91 L166.57,185.73 L166.63,185.54 L166.69,185.36 L166.74,185.17 L166.80,184.99 L166.85,184.80 L166.91,184.61 L166.97,184.43 L167.02,184.24 L167.08,184.06 L167.13,183.87 L167.19,183.69 L167.24,183.50 L167.30,183.31 L167.35,183.13 L167.41,182.94 L167.46,182.76 L167.52,182.57 L167.57,182.39 L167.62,182.20 L167.68,182.01 L167.73,181.83 L167.79,181.64 L167.84,181.46 L167.90,181.27 L167.95,181.09 L168.00,180.90 L168.04,180.77 M171.03,169.54 L171.04,169.50 L171.08,169.31 L171.13,169.12 L171.18,168.94 L171.23,168.75 L171.27,168.56 L171.32,168.37 L171.37,168.19 L171.41,168.00 L171.46,167.81 L171.51,167.62 L171.55,167.43 L171.60,167.25 L171.64,167.06 L171.69,166.87 L171.74,166.68 L171.78,166.50 L171.83,166.31 L171.88,166.12 L171.92,165.93 L171.97,165.74 L172.01,165.56 L172.06,165.37 L172.10,165.18 L172.15,164.99 L172.20,164.80 L172.24,164.62 L172.29,164.43 L172.33,164.24 L172.38,164.05 L172.42,163.86 L172.47,163.68 L172.52,163.49 L172.56,163.30 L172.61,163.11 L172.65,162.92 L172.70,162.74 L172.74,162.55 L172.79,162.36 L172.79,162.34 M175.49,150.75 L175.50,150.68 L175.54,150.49 L175.58,150.30 L175.61,150.11 L175.65,149.92 L175.69,149.73 L175.73,149.54 L175.77,149.35 L175.80,149.16 L175.84,148.97 L175.88,148.78 L175.91,148.59 L175.95,148.40 L175.99,148.21 L176.02,148.02 L176.06,147.83 L176.10,147.64 L176.13,147.45 L176.17,147.26 L176.21,147.07 L176.24,146.88 L176.28,146.69 L176.31,146.50 L176.35,146.31 L176.39,146.12 L176.42,145.93 L176.46,145.74 L176.50,145.55 L176.53,145.36 L176.57,145.17 L176.60,144.98 L176.64,144.79 L176.68,144.60 L176.71,144.41 L176.75,144.22 L176.78,144.03 L176.82,143.84 L176.86,143.65 L176.86,143.62 M178.80,132.08 L178.81,132.02 L178.84,131.83 L178.87,131.64 L178.90,131.44 L178.92,131.25 L178.95,131.06 L178.98,130.87 L179.01,130.68 L179.03,130.49 L179.06,130.30 L179.09,130.10 L179.12,129.91 L179.14,129.72 L179.17,129.53 L179.20,129.34 L179.23,129.15 L179.25,128.95 L179.28,128.76 L179.31,128.57 L179.33,128.38 L179.36,128.19 L179.39,128.00 L179.42,127.80 L179.44,127.61 L179.47,127.42 L179.50,127.23 L179.52,127.04 L179.55,126.85 L179.58,126.66 L179.60,126.46 L179.63,126.27 L179.66,126.08 L179.68,125.89 L179.71,125.70 L179.74,125.51 L179.76,125.31 L179.79,125.12 L179.82,124.93 L179.83,124.81 M181.38,113.07 L181.38,113.04 L181.41,112.85 L181.43,112.66 L181.46,112.47 L181.48,112.27 L181.51,112.08 L181.53,111.89 L181.56,111.70 L181.58,111.51 L181.61,111.32 L181.63,111.12 L181.66,110.93 L181.68,110.74 L181.71,110.55 L181.74,110.36 L181.76,110.16 L181.79,109.97 L181.81,109.78 L181.84,109.59 L181.86,109.40 L181.89,109.21 L181.92,109.01 L181.94,108.82 L181.97,108.63 L181.99,108.44 L182.02,108.25 L182.05,108.06 L182.07,107.87 L182.10,107.67 L182.13,107.48 L182.16,107.29 L182.18,107.10 L182.21,106.91 L182.24,106.72 L182.27,106.52 L182.29,106.33 L182.32,106.14 L182.35,105.95 L182.38,105.76 L182.39,105.65 M183.95,93.75 L183.96,93.68 L183.98,93.49 L184.01,93.29 L184.03,93.10 L184.05,92.91 L184.07,92.72 L184.10,92.52 L184.12,92.33 L184.14,92.14 L184.16,91.95 L184.19,91.76 L184.21,91.56 L184.23,91.37 L184.26,91.18 L184.28,90.99 L184.30,90.80 L184.33,90.60 L184.35,90.41 L184.37,90.22 L184.40,90.03 L184.42,89.84 L184.44,89.64 L184.47,89.45 L184.49,89.26 L184.52,89.07 L184.54,88.88 L184.57,88.69 L184.59,88.49 L184.62,88.30 L184.64,88.11 L184.67,87.92 L184.69,87.73 L184.72,87.53 L184.74,87.34 L184.77,87.15 L184.79,86.96 L184.82,86.77 L184.85,86.58 L184.85,86.54 M186.25,74.94 L186.26,74.86 L186.28,74.67 L186.30,74.48 L186.32,74.29 L186.34,74.09 L186.36,73.90 L186.38,73.71 L186.40,73.52 L186.42,73.32 L186.44,73.13 L186.46,72.94 L186.48,72.75 L186.51,72.55 L186.53,72.36 L186.55,72.17 L186.57,71.98 L186.59,71.79 L186.61,71.59 L186.63,71.40 L186.66,71.21 L186.68,71.02 L186.70,70.82 L186.72,70.63 L186.75,70.44 L186.77,70.25 L186.79,70.06 L186.82,69.86 L186.84,69.67 L186.86,69.48 L186.89,69.29 L186.91,69.10 L186.94,68.90 L186.96,68.71 L186.99,68.52 L187.01,68.33 L187.04,68.14 L187.06,67.95 L187.09,67.75 L187.09,67.72 M188.87,56.14 L188.88,56.09 L188.92,55.90 L188.96,55.71 L189.00,55.53 L189.04,55.34 L189.08,55.15 L189.13,54.96 L189.17,54.77 L189.22,54.58 L189.26,54.40 L189.31,54.21 L189.36,54.02 L189.41,53.83 L189.46,53.65 L189.51,53.46 L189.55,53.27 L189.60,53.08 L189.66,52.90 L189.71,52.71 L189.76,52.52 L189.81,52.34 L189.86,52.15 L189.91,51.96 L189.96,51.78 L190.01,51.59 L190.07,51.41 L190.12,51.22 L190.17,51.03 L190.23,50.85 L190.28,50.66 L190.34,50.48 L190.39,50.29 L190.45,50.11 L190.51,49.92 L190.57,49.74 L190.62,49.55 L190.68,49.37 L190.74,49.18 L190.80,49.00" stroke-dasharray="none"/>
<path d="M191.34,50.51 L191.36,50.59 L191.44,50.82 L191.51,51.05 L191.59,51.28 L191.66,51.51 L191.73,51.74 L191.79,51.97 L191.86,52.20 L191.92,52.44 L191.98,52.67 L192.05,52.90 L192.11,53.13 L192.17,53.37 L192.23,53.60 L192.29,53.83 L192.35,54.07 L192.41,54.30 L192.47,54.54 L192.53,54.77 L192.58,55.01 L192.64,55.24 L192.69,55.48 L192.75,55.71 L192.80,55.95 L192.85,56.18 L192.90,56.42 L192.95,56.66 L193.00,56.89 L193.05,57.13 L193.09,57.37 L193.14,57.60 L193.18,57.84 L193.23,58.08 L193.24,58.16 M194.77,70.14 L194.79,70.27 L194.82,70.51 L194.84,70.75 L194.87,70.99 L194.90,71.23 L194.93,71.47 L194.95,71.71 L194.98,71.94 L195.01,72.18 L195.04,72.42 L195.06,72.66 L195.09,72.90 L195.12,73.14 L195.14,73.38 L195.17,73.62 L195.20,73.86 L195.22,74.10 L195.25,74.34 L195.27,74.58 L195.30,74.82 L195.32,75.06 L195.35,75.30 L195.37,75.54 L195.40,75.78 L195.42,76.02 L195.44,76.26 L195.47,76.50 L195.49,76.74 L195.51,76.98 L195.54,77.22 L195.56,77.46 L195.58,77.70 L195.59,77.76 M196.50,89.92 L196.50,89.96 L196.51,90.20 L196.53,90.44 L196.54,90.68 L196.56,90.92 L196.57,91.16 L196.59,91.40 L196.60,91.64 L196.62,91.88 L196.63,92.12 L196.65,92.36 L196.66,92.61 L196.68,92.85 L196.69,93.09 L196.71,93.33 L196.72,93.57 L196.74,93.81 L196.75,94.05 L196.77,94.29 L196.78,94.53 L196.80,94.77 L196.81,95.01 L196.83,95.25 L196.84,95.49 L196.85,95.73 L196.87,95.97 L196.88,96.21 L196.90,96.46 L196.91,96.70 L196.92,96.84 M197.63,108.02 L197.64,108.24 L197.66,108.48 L197.67,108.72 L197.69,108.97 L197.70,109.21 L197.72,109.45 L197.74,109.69 L197.75,109.93 L197.77,110.17 L197.78,110.41 L197.80,110.65 L197.82,110.89 L197.83,111.13 L197.85,111.37 L197.87,111.61 L197.88,111.85 L197.90,112.09 L197.92,112.33 L197.93,112.57 L197.95,112.81 L197.97,113.05 L197.99,113.29 L198.00,113.53 L198.02,113.78 L198.04,114.02 L198.05,114.26 L198.07,114.50 L198.09,114.74 L198.11,114.98 L198.12,115.21 M199.06,126.82 L199.08,126.99 L199.10,127.23 L199.12,127.47 L199.14,127.71 L199.17,127.95 L199.19,128.19 L199.21,128.43 L199.23,128.67 L199.25,128.91 L199.28,129.15 L199.30,129.39 L199.32,129.63 L199.35,129.87 L199.37,130.11 L199.39,130.35 L199.42,130.59 L199.44,130.83 L199.46,131.07 L199.49,131.31 L199.51,131.55 L199.53,131.79 L199.56,132.03 L199.58,132.27 L199.61,132.51 L199.63,132.75 L199.66,132.99 L199.68,133.23 L199.71,133.47 L199.73,133.71 L199.76,133.95 L199.78,134.19 L199.79,134.27 M201.37,146.13 L201.37,146.14 L201.40,146.38 L201.44,146.61 L201.48,146.85 L201.51,147.09 L201.55,147.33 L201.59,147.57 L201.63,147.80 L201.66,148.04 L201.70,148.28 L201.74,148.52 L201.78,148.76 L201.82,148.99 L201.86,149.23 L201.90,149.47 L201.94,149.71 L201.98,149.95 L202.02,150.18 L202.06,150.42 L202.10,150.66 L202.14,150.90 L202.18,151.13 L202.22,151.37 L202.27,151.61 L202.31,151.85 L202.35,152.08 L202.40,152.32 L202.44,152.56 L202.48,152.79 L202.53,153.03 L202.55,153.16 M205.14,164.43 L205.17,164.54 L205.25,164.76 L205.32,164.99 L205.40,165.22 L205.48,165.44 L205.57,165.67 L205.65,165.89 L205.74,166.12 L205.83,166.34 L205.92,166.56 L206.01,166.78 L206.11,167.01 L206.20,167.23 L206.30,167.45 L206.40,167.67 L206.49,167.89 L206.59,168.11 L206.69,168.33 L206.79,168.55 L206.90,168.77 L207.00,168.99 L207.10,169.21 L207.20,169.43 L207.31,169.65 L207.41,169.87 L207.51,170.09 L207.61,170.31 L207.71,170.53 L207.82,170.75 L207.92,170.97 L208.02,171.19 L208.12,171.41 L208.15,171.48 M213.52,182.48 L213.63,182.63 L213.76,182.83 L213.90,183.03 L214.04,183.22 L214.19,183.42 L214.33,183.61 L214.47,183.80 L214.62,184.00 L214.77,184.19 L214.92,184.38 L215.07,184.57 L215.22,184.76 L215.37,184.95 L215.52,185.14 L215.68,185.33 L215.83,185.52 L215.98,185.70 L216.14,185.89 L216.29,186.08 L216.45,186.27 L216.60,186.45 L216.76,186.64 L216.91,186.83 L217.07,187.01 L217.22,187.20 L217.38,187.39 L217.53,187.57 L217.68,187.76 L217.84,187.94 L217.99,188.13 L218.05,188.21 M225.91,196.91 L226.07,197.07 L226.24,197.23 L226.42,197.40 L226.59,197.57 L226.76,197.73 L226.94,197.90 L227.11,198.07 L227.29,198.23 L227.47,198.40 L227.64,198.56 L227.82,198.72 L228.00,198.89 L228.17,199.05 L228.35,199.22 L228.53,199.38 L228.71,199.54 L228.89,199.70 L229.06,199.87 L229.24,200.03 L229.42,200.19 L229.60,200.36 L229.78,200.52 L229.95,200.68 L230.13,200.85 L230.31,201.01 L230.49,201.17 L230.66,201.33 L230.84,201.50 L231.02,201.66 L231.19,201.82 M239.94,209.45 L240.10,209.57 L240.30,209.71 L240.49,209.85 L240.69,209.99 L240.89,210.13 L241.08,210.27 L241.28,210.41 L241.48,210.55 L241.67,210.69 L241.87,210.83 L242.07,210.97 L242.27,211.11 L242.46,211.25 L242.66,211.38 L242.86,211.52 L243.06,211.66 L243.25,211.80 L243.45,211.95 L243.64,212.09 L243.84,212.23 L244.03,212.37 L244.23,212.52 L244.42,212.66 L244.61,212.81 L244.80,212.95 L244.99,213.10 L245.18,213.25 L245.37,213.40 L245.56,213.55 L245.74,213.70 L245.83,213.77 M254.98,221.04 L255.19,221.17 L255.39,221.30 L255.60,221.42 L255.80,221.55 L256.01,221.67 L256.22,221.79 L256.43,221.92 L256.63,222.04 L256.84,222.16 L257.05,222.28 L257.26,222.41 L257.47,222.53 L257.68,222.65 L257.89,222.77 L258.09,222.89 L258.30,223.02 L258.51,223.14 L258.72,223.26 L258.93,223.39 L259.13,223.51 L259.34,223.64 L259.54,223.76 L259.75,223.89 L259.95,224.02 L260.16,224.15 L260.36,224.28 L260.56,224.41 L260.77,224.54 L260.97,224.67 L261.07,224.73 M270.72,230.78 L270.77,230.81 L270.98,230.93 L271.19,231.04 L271.41,231.16 L271.62,231.27 L271.83,231.38 L272.04,231.50 L272.26,231.61 L272.47,231.72 L272.69,231.83 L272.90,231.94 L273.11,232.05 L273.33,232.16 L273.54,232.27 L273.76,232.38 L273.97,232.49 L274.19,232.60 L274.41,232.71 L274.62,232.81 L274.84,232.92 L275.05,233.03 L275.27,233.14 L275.49,233.24 L275.70,233.35 L275.92,233.45 L276.14,233.56 L276.35,233.66 L276.57,233.77 L276.79,233.87 L276.81,233.88 M286.79,238.38 L286.90,238.43 L287.12,238.53 L287.34,238.62 L287.56,238.72 L287.78,238.82 L288.00,238.92 L288.22,239.02 L288.44,239.12 L288.66,239.22 L288.88,239.31 L289.10,239.41 L289.32,239.51 L289.54,239.61 L289.76,239.70 L289.98,239.80 L290.21,239.89 L290.43,239.99 L290.65,240.08 L290.87,240.18 L291.09,240.27 L291.32,240.36 L291.54,240.45 L291.76,240.54 L291.98,240.63 L292.21,240.72 L292.43,240.81 L292.65,240.90 L292.82,240.97 M302.78,244.58 L302.85,244.60 L303.08,244.67 L303.31,244.74 L303.54,244.81 L303.77,244.88 L304.00,244.95 L304.24,245.01 L304.47,245.08 L304.70,245.15 L304.93,245.21 L305.16,245.28 L305.40,245.34 L305.63,245.41 L305.86,245.47 L306.09,245.53 L306.33,245.60 L306.56,245.66 L306.79,245.72 L307.03,245.79 L307.26,245.85 L307.49,245.91 L307.72,245.98 L307.96,246.04 L308.19,246.10 L308.42,246.16 L308.66,246.23 L308.89,246.29 L309.12,246.35 L309.28,246.39 M319.83,249.15 L319.85,249.16 L320.08,249.22 L320.32,249.29 L320.55,249.35 L320.78,249.42 L321.01,249.48 L321.25,249.55 L321.48,249.62 L321.71,249.68 L321.94,249.75 L322.18,249.82 L322.41,249.88 L322.64,249.95 L322.87,250.01 L323.11,250.08 L323.34,250.14 L323.57,250.20 L323.81,250.26 L324.04,250.32 L324.27,250.38 L324.51,250.44 L324.74,250.49 L324.98,250.55 L325.21,250.60 L325.44,250.65 L325.68,250.70 L325.91,250.75 L326.15,250.79 L326.39,250.83 L326.62,250.88 L326.64,250.88 M337.85,252.41 L337.85,252.41 L338.09,252.46 L338.32,252.50 L338.56,252.54 L338.80,252.59 L339.03,252.64 L339.27,252.69 L339.50,252.73 L339.74,252.78 L339.98,252.83 L340.21,252.88 L340.45,252.93 L340.68,252.98 L340.92,253.03 L341.16,253.08 L341.39,253.14 L341.63,253.19 L341.86,253.24 L342.10,253.29 L342.34,253.34 L342.57,253.38 L342.81,253.43 L343.05,253.48 L343.28,253.53 L343.52,253.57 L343.75,253.62 L343.99,253.66 L344.23,253.71 L344.47,253.75 L344.70,253.79 L344.82,253.81 M356.08,255.55 L356.14,255.56 L356.38,255.59 L356.62,255.62 L356.85,255.64 L357.09,255.67 L357.33,255.70 L357.57,255.72 L357.81,255.75 L358.05,255.77 L358.29,255.80 L358.53,255.82 L358.77,255.85 L359.01,255.87 L359.25,255.90 L359.49,255.92 L359.73,255.94 L359.97,255.97 L360.21,255.99 L360.45,256.01 L360.69,256.04 L360.93,256.06 L361.17,256.08 L361.41,256.10 L361.65,256.12 L361.89,256.14 L362.13,256.16 L362.37,256.18 L362.61,256.20 L362.85,256.22 L362.88,256.22 M373.93,256.95 L374.16,256.96 L374.40,256.98 L374.64,257.00 L374.88,257.02 L375.12,257.03 L375.36,257.05 L375.60,257.07 L375.84,257.09 L376.08,257.11 L376.32,257.13 L376.56,257.15 L376.80,257.17 L377.04,257.19 L377.28,257.20 L377.53,257.22 L377.77,257.24 L378.01,257.26 L378.25,257.28 L378.49,257.30 L378.73,257.32 L378.97,257.34 L379.21,257.35 L379.45,257.37 L379.69,257.39 L379.93,257.41 L380.17,257.42 L380.41,257.44 L380.65,257.46 L380.89,257.47 L381.12,257.49 M392.72,258.13 L392.92,258.15 L393.16,258.17 L393.41,258.18 L393.65,258.20 L393.89,258.22 L394.13,258.24 L394.37,258.26 L394.61,258.28 L394.85,258.30 L395.09,258.32 L395.33,258.33 L395.57,258.35 L395.81,258.37 L396.05,258.39 L396.29,258.41 L396.53,258.43 L396.77,258.45 L397.01,258.47 L397.25,258.49 L397.49,258.51 L397.73,258.53 L397.97,258.55 L398.21,258.57 L398.45,258.59 L398.69,258.61 L398.93,258.63 L399.17,258.65 L399.41,258.67 L399.65,258.69 L399.89,258.71 L400.00,258.71 M411.73,259.57 L411.91,259.58 L412.15,259.60 L412.39,259.62 L412.64,259.64 L412.88,259.66 L413.12,259.68 L413.36,259.69 L413.60,259.71 L413.84,259.73 L414.08,259.75 L414.32,259.77 L414.56,259.79 L414.80,259.81 L415.04,259.82 L415.28,259.84 L415.52,259.86 L415.76,259.88 L416.00,259.90" stroke-dasharray="none"/>
<path d="M365,24.5 H398.7" stroke-dashoffset="0"/>
</g>
</g>
</svg>
</body></html>
